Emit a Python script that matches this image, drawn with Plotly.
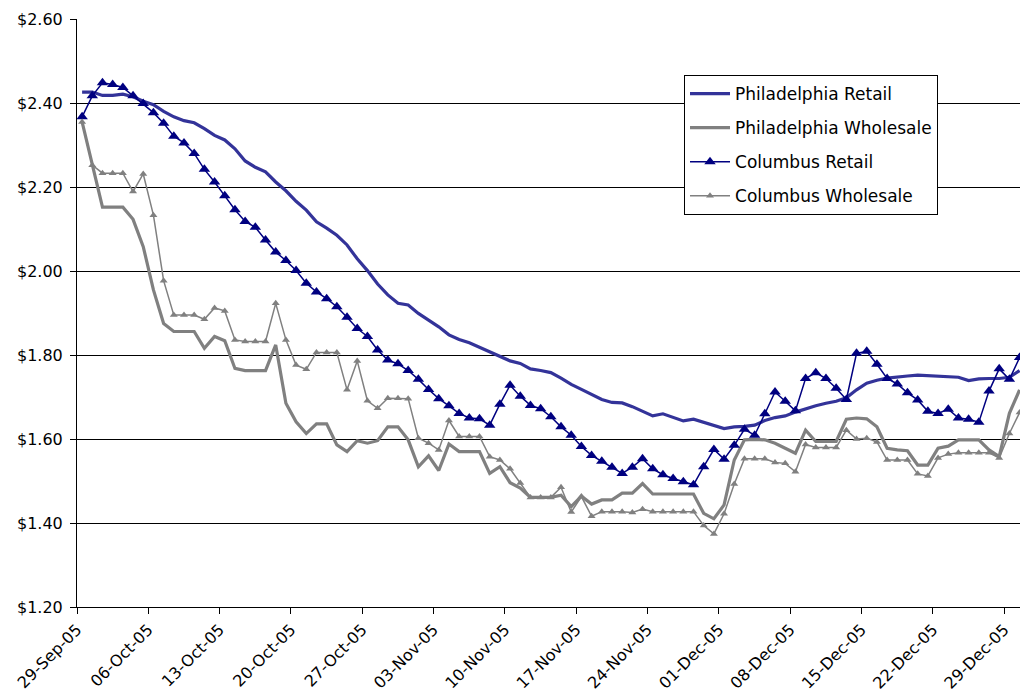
import pandas as pd
import plotly.graph_objects as go

# Daily prices, 29-Sep-05 through 30-Dec-05 (one value per day)
start_date = "2005-09-29"
n_days = 93

phila_retail = [
    2.426, 2.426, 2.418, 2.418, 2.421, 2.415, 2.404, 2.396, 2.380, 2.367,
    2.358, 2.353, 2.339, 2.323, 2.312, 2.291, 2.262, 2.247, 2.236, 2.212,
    2.191, 2.166, 2.145, 2.117, 2.102, 2.085, 2.062, 2.029, 2.001, 1.969,
    1.943, 1.923, 1.919, 1.899, 1.883, 1.867, 1.848, 1.837, 1.829, 1.818,
    1.808, 1.796, 1.786, 1.780, 1.767, 1.763, 1.758, 1.745, 1.730, 1.718,
    1.706, 1.694, 1.687, 1.686, 1.677, 1.667, 1.655, 1.660, 1.652, 1.643,
    1.647, 1.640, 1.633, 1.625, 1.629, 1.630, 1.633, 1.644, 1.651, 1.655,
    1.664, 1.672, 1.679, 1.685, 1.690, 1.698, 1.717, 1.733, 1.740, 1.745,
    1.748, 1.750, 1.752, 1.751, 1.750, 1.749, 1.747, 1.739, 1.743, 1.744,
    1.744, 1.747, 1.763,
]

phila_wholesale = [
    2.355, 2.255, 2.152, 2.152, 2.152, 2.123, 2.058, 1.955, 1.875, 1.856,
    1.856, 1.856, 1.816, 1.844, 1.834, 1.768, 1.763, 1.763, 1.763, 1.824,
    1.685, 1.641, 1.613, 1.636, 1.636, 1.586, 1.570, 1.596, 1.590, 1.596,
    1.629, 1.629, 1.598, 1.534, 1.560, 1.525, 1.588, 1.570, 1.570, 1.570,
    1.518, 1.534, 1.496, 1.483, 1.461, 1.461, 1.461, 1.466, 1.439, 1.464,
    1.445, 1.455, 1.455, 1.471, 1.471, 1.494, 1.469, 1.469, 1.469, 1.469,
    1.469, 1.423, 1.410, 1.443, 1.550, 1.598, 1.599, 1.598, 1.590, 1.578,
    1.566, 1.621, 1.594, 1.594, 1.594, 1.647, 1.650, 1.648, 1.629, 1.578,
    1.574, 1.572, 1.538, 1.538, 1.578, 1.583, 1.598, 1.598, 1.598, 1.574,
    1.558, 1.661, 1.717,
]

columbus_retail = [
    2.367, 2.417, 2.448, 2.444, 2.437, 2.417, 2.399, 2.377, 2.352, 2.321,
    2.305, 2.280, 2.242, 2.212, 2.179, 2.146, 2.118, 2.104, 2.074, 2.045,
    2.025, 2.001, 1.971, 1.950, 1.934, 1.915, 1.890, 1.863, 1.844, 1.812,
    1.788, 1.779, 1.763, 1.742, 1.718, 1.696, 1.679, 1.661, 1.650, 1.648,
    1.633, 1.683, 1.728, 1.702, 1.680, 1.672, 1.653, 1.629, 1.609, 1.582,
    1.561, 1.547, 1.533, 1.518, 1.533, 1.553, 1.529, 1.515, 1.506, 1.498,
    1.491, 1.534, 1.575, 1.552, 1.585, 1.623, 1.609, 1.660, 1.712, 1.690,
    1.667, 1.744, 1.758, 1.744, 1.721, 1.694, 1.804, 1.809, 1.778, 1.744,
    1.731, 1.710, 1.693, 1.666, 1.661, 1.671, 1.650, 1.647, 1.640, 1.714,
    1.767, 1.742, 1.794,
]

columbus_wholesale = [
    2.355, 2.252, 2.233, 2.233, 2.233, 2.189, 2.231, 2.133, 1.977, 1.895,
    1.895, 1.895, 1.885, 1.912, 1.905, 1.836, 1.832, 1.832, 1.832, 1.923,
    1.836, 1.776, 1.766, 1.806, 1.806, 1.806, 1.717, 1.786, 1.691, 1.673,
    1.697, 1.697, 1.696, 1.602, 1.590, 1.574, 1.644, 1.606, 1.606, 1.606,
    1.558, 1.550, 1.529, 1.495, 1.461, 1.461, 1.461, 1.485, 1.426, 1.463,
    1.416, 1.427, 1.427, 1.427, 1.425, 1.433, 1.427, 1.427, 1.427, 1.427,
    1.427, 1.394, 1.374, 1.422, 1.493, 1.553, 1.553, 1.553, 1.544, 1.542,
    1.522, 1.587, 1.580, 1.580, 1.580, 1.621, 1.600, 1.602, 1.593, 1.550,
    1.550, 1.550, 1.517, 1.512, 1.555, 1.564, 1.567, 1.567, 1.567, 1.567,
    1.555, 1.613, 1.663,
]

# Each day's point sits in the middle of its day slot
days = pd.date_range(start_date, periods=n_days, freq="D") + pd.Timedelta(hours=12)
tick_dates = pd.date_range(start_date, "2005-12-29", freq="7D")

FONT = "DejaVu Sans, Verdana, sans-serif"

fig = go.Figure()
fig.add_trace(go.Scatter(
    x=days, y=phila_retail, name="Philadelphia Retail", mode="lines",
    line=dict(color="#333399", width=3.2), legendgroup="a",
))
fig.add_trace(go.Scatter(
    x=days, y=phila_wholesale, name="Philadelphia Wholesale", mode="lines",
    line=dict(color="#808080", width=3.2), legendgroup="b",
))
fig.add_trace(go.Scatter(
    x=days, y=columbus_retail, name="Columbus Retail", mode="lines+markers",
    line=dict(color="#000080", width=1.5),
    marker=dict(symbol="triangle-up", size=10, color="#000080"),
    legendgroup="c",
))
fig.add_trace(go.Scatter(
    x=days, y=columbus_wholesale, name="Columbus Wholesale", mode="lines+markers",
    line=dict(color="#808080", width=1.5),
    marker=dict(symbol="triangle-up", size=7, color="#808080"),
    legendgroup="d",
))

fig.update_layout(
    width=1021, height=698,
    margin=dict(l=77, r=1, t=19, b=91),
    paper_bgcolor="white", plot_bgcolor="white",
    font=dict(family=FONT, size=16, color="black"),
    showlegend=True,
    legend=dict(
        x=0.6437, y=0.9048, xanchor="left", yanchor="top",
        bgcolor="white", bordercolor="black", borderwidth=1,
        font=dict(family=FONT, size=17, color="black"),
        traceorder="grouped", tracegroupgap=9, itemwidth=40,
    ),
)

fig.update_xaxes(
    type="date",
    range=[pd.Timestamp(start_date), pd.Timestamp("2005-12-30 13:00")],
    tickvals=tick_dates, tickformat="%d-%b-%y", tickangle=-45,
    ticks="outside", ticklen=6, tickcolor="black",
    showline=True, linecolor="black", linewidth=1,
    showgrid=False, zeroline=False,
    tickfont=dict(family=FONT, size=16, color="black"),
)
fig.update_yaxes(
    range=[1.2, 2.6], dtick=0.2, tick0=1.2, tickformat="$.2f",
    ticks="outside", ticklen=6, tickcolor="black",
    showline=True, linecolor="black", linewidth=1,
    showgrid=True, gridcolor="black", gridwidth=1, zeroline=False,
    ticklabelstandoff=4,
    tickfont=dict(family=FONT, size=16, color="black"),
)

fig.write_html("out.html")
